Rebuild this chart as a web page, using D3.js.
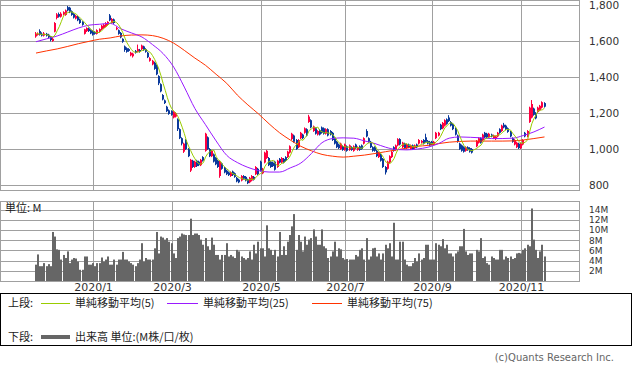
<!DOCTYPE html>
<html>
<head>
<meta charset="utf-8">
<script src="https://cdn.jsdelivr.net/npm/d3@7"></script>
<style>
  body { margin: 0; background: #fff; }
  svg { display: block; font-family: "DejaVu Sans", "Noto Sans CJK JP", sans-serif; }
</style>
</head>
<body>
<div id="chart"></div>
<script>
// daily candles, 2019/11/22 .. 2020/11/18 (index = trading day, null = 2020/10/1 halt)
var opens = [
  1625,1635,1655,1640,1630,1640,1635,1625,1600,1652,
  1728,1750,1735,1748,1745,1788,1785,1765,1750,1725,
  1735,1720,1705,1640,1655,1670,1660,1655,1650,1640,
  1650,1665,1672,1680,1690,1742,1700,1720,1665,1660,
  1645,1612,1570,1560,1555,1520,1515,1545,1540,1550,
  1555,1570,1555,1535,1490,1470,1480,1465,1405,1360,
  1300,1270,1235,1215,1210,1175,1180,1165,1110,1060,
  985,1050,1000,880,935,900,935,930,910,955,
  990,1065,1000,960,970,950,935,850,920,895,
  880,870,850,875,865,840,830,825,850,845,
  830,815,825,845,860,890,930,865,925,950,
  950,930,925,930,900,945,925,945,955,955,
  980,1055,1075,1050,1010,1060,1080,1090,1110,1150,
  1160,1100,1115,1080,1105,1120,1115,1085,1110,1100,
  1090,1060,1040,1025,1000,1015,995,1015,995,1010,
  990,1025,995,1015,1020,1030,1100,1060,1040,1010,
  1010,990,955,970,945,900,890,925,955,1010,
  995,1020,1055,1010,1030,1005,1025,1000,1020,1005,
  1025,1030,1035,1050,1065,1045,1040,1040,1025,1060,
  1075,1135,1115,1130,1165,1175,1150,1140,1115,1075,
  1030,1020,1010,990,1010,1005,1000,null,1015,1035,
  1060,1050,1090,1085,1065,1080,1060,1055,1070,1110,
  1100,1135,1130,1115,1095,1060,1025,1010,1030,1005,
  1025,1090,1070,1150,1175,1225,1200,1205,1215,1230,1255
];
var closes = [
  1640,1640,1635,1630,1642,1630,1620,1605,1612,1700,
  1748,1735,1752,1760,1770,1770,1760,1745,1730,1740,
  1715,1700,1690,1665,1672,1655,1642,1635,1640,1660,
  1666,1685,1690,1700,1706,1715,1722,1700,1672,1640,
  1620,1596,1550,1540,1545,1535,1530,1535,1555,1540,
  1575,1550,1540,1510,1505,1490,1445,1415,1365,1320,
  1275,1255,1210,1195,1190,1205,1200,1110,1060,1030,
  1030,1000,960,940,900,930,905,910,940,935,
  1085,1000,960,990,930,915,900,930,890,870,
  860,855,870,855,845,820,815,850,835,825,
  810,840,850,830,900,860,880,890,980,990,
  910,900,905,885,935,925,950,925,935,985,
  1015,1085,1040,1000,1050,1090,1060,1115,1075,1180,
  1120,1125,1085,1100,1080,1090,1085,1110,1075,1080,
  1050,1030,1010,1005,1030,995,1025,990,1020,995,
  1015,1005,1010,995,1000,1060,1070,1040,1010,990,
  990,960,980,935,900,870,930,960,985,990,
  1020,1055,1025,1035,1005,1025,1010,1020,1000,1020,
  1010,1050,1045,1030,1040,1030,1020,1025,1040,1090,
  1090,1110,1145,1160,1140,1155,1130,1110,1080,1040,
  1000,990,985,1010,995,985,980,null,1045,1060,
  1035,1080,1065,1065,1085,1070,1075,1070,1090,1090,
  1130,1120,1110,1095,1070,1040,1050,1035,1005,1030,
  1050,1070,1100,1230,1250,1190,1170,1230,1240,1260,1235
];
var highs = [
  1650,1648,1665,1648,1650,1645,1640,1628,1620,1705,
  1755,1758,1760,1765,1775,1795,1790,1770,1755,1745,
  1740,1725,1710,1668,1676,1675,1665,1660,1655,1665,
  1670,1690,1695,1705,1710,1750,1728,1725,1680,1664,
  1650,1615,1575,1565,1560,1540,1535,1550,1580,1556,
  1580,1574,1560,1540,1510,1495,1485,1470,1410,1365,
  1305,1275,1240,1220,1215,1210,1205,1170,1115,1065,
  1035,1055,1005,945,940,935,940,935,945,960,
  1090,1070,1005,995,975,955,940,935,925,900,
  885,875,875,880,870,845,835,855,855,850,
  835,845,855,850,905,895,935,895,985,995,
  955,935,930,935,940,950,955,950,960,990,
  1020,1090,1080,1055,1055,1095,1085,1120,1115,1190,
  1165,1130,1120,1105,1110,1125,1120,1115,1115,1105,
  1095,1065,1045,1030,1035,1020,1030,1020,1025,1015,
  1020,1030,1015,1020,1025,1065,1110,1065,1045,1015,
  1015,995,985,975,950,905,935,965,990,1015,
  1025,1060,1060,1040,1035,1030,1030,1025,1025,1025,
  1030,1055,1050,1055,1085,1050,1045,1045,1045,1095,
  1095,1140,1150,1165,1170,1188,1155,1145,1120,1080,
  1035,1025,1015,1015,1015,1010,1005,null,1050,1065,
  1065,1085,1095,1090,1090,1085,1080,1075,1095,1115,
  1135,1145,1135,1120,1100,1065,1055,1040,1035,1035,
  1055,1095,1105,1235,1272,1230,1205,1235,1245,1265,1260
];
var lows = [
  1618,1630,1630,1625,1625,1625,1615,1598,1595,1648,
  1720,1730,1730,1742,1740,1765,1755,1740,1725,1720,
  1710,1695,1685,1636,1650,1650,1638,1630,1635,1636,
  1646,1660,1668,1676,1685,1710,1696,1695,1660,1635,
  1615,1590,1540,1535,1540,1515,1508,1530,1536,1535,
  1550,1545,1535,1505,1485,1465,1440,1410,1355,1315,
  1270,1250,1205,1190,1185,1170,1175,1100,1055,1020,
  978,995,955,872,895,895,900,905,905,930,
  985,995,955,955,925,910,895,840,885,865,
  855,850,845,850,840,815,810,820,830,820,
  805,810,820,825,855,855,875,860,920,945,
  905,895,900,880,895,920,920,920,930,950,
  975,1050,1035,995,1005,1055,1055,1085,1070,1145,
  1115,1095,1080,1075,1075,1085,1080,1080,1070,1075,
  1045,1025,1005,1000,995,990,990,985,990,990,
  985,1000,990,990,995,1025,1065,1035,1005,985,
  985,955,950,930,895,858,885,920,950,985,
  990,1015,1020,1005,1000,1000,1005,995,995,1000,
  1005,1025,1030,1025,1035,1025,1015,1020,1020,1055,
  1070,1105,1110,1125,1135,1150,1125,1105,1075,1035,
  995,985,980,985,990,980,975,null,1010,1030,
  1030,1045,1060,1060,1060,1065,1055,1050,1065,1085,
  1095,1115,1105,1090,1065,1035,1020,1005,1000,1000,
  1020,1065,1065,1145,1170,1185,1165,1200,1210,1225,1230
];
// volume, millions
var volumes = [
  3.2,5.2,2.9,2.9,3.5,2.9,3.3,2.9,9.6,8.7,
  6.2,6.1,4.2,5.1,4.5,5.8,3.5,4.2,4.5,4.4,
  3.8,2.2,2.2,4.8,4.8,3.2,3.2,3.5,2.9,3.5,
  3.5,4.6,3.8,4.2,4.8,3.2,3.2,4.2,3.2,4.2,
  4.2,5.7,4.2,4.2,3.8,3.5,3.2,2.9,3.5,4.2,
  7.4,3.8,4.5,4.2,4.2,4.2,6.4,9.6,5.4,8.7,
  8.5,8.1,8.4,7.7,7.4,5.4,4.5,8.4,8.7,9.3,
  9.1,9.0,9.0,12.2,9.0,9.3,9.3,9.0,8.1,7.1,
  8.4,6.8,6.1,8.5,7.1,5.1,5.1,4.2,5.1,5.1,
  7.4,4.8,5.1,4.8,4.5,6.1,5.8,4.8,4.5,4.2,
  4.5,5.8,4.2,7.1,5.4,7.7,6.4,6.4,4.8,10.9,
  6.4,6.1,5.1,6.1,4.8,9.6,5.1,6.8,5.1,7.7,
  9.0,10.7,13.1,6.1,9.0,7.7,5.8,8.7,7.1,8.1,
  8.4,10.1,8.7,7.1,7.1,10.1,6.8,6.4,4.5,4.8,
  5.8,7.7,4.8,6.4,6.2,4.5,4.2,4.3,4.2,4.2,
  4.2,5.1,4.8,6.1,6.4,4.2,8.4,4.2,4.8,6.4,
  6.5,4.8,5.4,4.2,5.4,7.1,6.4,7.4,4.8,11.4,
  4.2,4.2,7.7,7.7,4.2,3.2,2.9,2.9,3.5,4.5,
  3.8,5.4,4.2,4.5,7.1,7.1,4.2,4.2,4.2,7.4,
  7.1,6.8,8.2,6.4,7.1,5.4,5.4,4.8,5.4,5.8,
  6.8,6.8,10.2,5.8,5.1,5.4,5.4,0,6.1,5.8,
  8.4,4.5,4.8,3.5,3.2,4.8,4.5,4.2,4.2,6.1,
  6.1,4.2,4.8,4.5,4.8,4.3,4.5,5.4,5.5,5.4,
  6.1,6.4,7.1,6.8,14.2,8.1,6.1,4.5,5.8,7.1,4.8
];
// moving averages read every 5 trading days
var ma25 = [1596,1612,1628,1650,1672,1688,1693,1698,1668,1645,1622,1580,1530,1455,1344,1225,1135,1045,965,925,898,880,872,872,895,922,975,1035,1058,1062,1060,1045,1030,1010,997,995,1000,1010,1030,1060,1067,1065,1062,1058,1058,1060,1075,1095,1122];
var ma75 = [1533,1545,1556,1570,1585,1598,1610,1617,1628,1633,1634,1630,1615,1588,1548,1505,1465,1415,1365,1300,1245,1195,1140,1090,1050,1015,990,970,960,955,960,966,975,985,995,1005,1015,1020,1030,1038,1042,1044,1044,1044,1044,1045,1050,1058,1067];

var tickIdx = [27, 64, 106, 146, 187, 229];
var tickLabels = ["2020/1", "2020/3", "2020/5", "2020/7", "2020/9", "2020/11"];
var priceTicks = [800, 1000, 1200, 1400, 1600, 1800];
var volTicks = [2, 4, 6, 8, 10, 12, 14];

var upColor = "#ff0040", downColor = "#0b3a9c";
var gridColor = "#a0a0a0";

var svg = d3.select("#chart").append("svg")
  .attr("width", 633)
  .attr("height", 374);

var n = closes.length;
var x = d3.scaleLinear().domain([0, n - 1]).range([36, 544.5]);
var yP = d3.scaleLinear().domain([800, 1800]).range([185, 5]);
var yV = d3.scaleLinear().domain([0, 14]).range([281, 209.5]);

var panelRight = 579.5;

// price panel grid
var priceG = svg.append("g");
priceG.selectAll(".hg").data(priceTicks).enter().append("line")
  .attr("x1", 0).attr("x2", panelRight)
  .attr("y1", d => Math.round(yP(d)) + 0.5).attr("y2", d => Math.round(yP(d)) + 0.5)
  .attr("stroke", gridColor);
priceG.selectAll(".vg").data(tickIdx).enter().append("line")
  .attr("x1", d => Math.round(x(d)) + 0.5).attr("x2", d => Math.round(x(d)) + 0.5)
  .attr("y1", 0).attr("y2", 190.5)
  .attr("stroke", gridColor);
priceG.append("rect")
  .attr("x", 0.5).attr("y", 0.5).attr("width", panelRight - 0.5).attr("height", 190)
  .attr("fill", "none").attr("stroke", gridColor);

// price axis labels
priceG.selectAll(".pl").data(priceTicks).enter().append("text")
  .attr("x", 589).attr("y", d => yP(d) + 4)
  .attr("font-size", "10.5px").attr("fill", "#333")
  .text(d => d3.format(",")(d));

// candles
var days = d3.range(n).filter(i => closes[i] !== null);
var candles = priceG.append("g");
candles.selectAll("line").data(days).enter().append("line")
  .attr("x1", i => Math.round(x(i)) - 0.5).attr("x2", i => Math.round(x(i)) - 0.5)
  .attr("y1", i => yP(highs[i])).attr("y2", i => yP(lows[i]))
  .attr("stroke", i => closes[i] >= opens[i] ? upColor : downColor);
candles.selectAll("rect").data(days).enter().append("rect")
  .attr("x", i => Math.round(x(i)) - 1)
  .attr("width", 2)
  .attr("y", i => yP(Math.max(opens[i], closes[i])))
  .attr("height", i => Math.max(1, Math.abs(yP(opens[i]) - yP(closes[i]))))
  .attr("fill", i => closes[i] >= opens[i] ? upColor : downColor);

// moving averages
var ma5 = days.map(function(i, k) {
  var win = days.slice(Math.max(0, k - 4), k + 1);
  return { i: i, v: d3.mean(win, j => closes[j]) };
});
var maIdx = d3.range(0, n, 5);
var line = d3.line().x(d => x(d.i)).y(d => yP(d.v)).curve(d3.curveMonotoneX);

priceG.append("path").datum(maIdx.map((i, k) => ({ i: i, v: ma75[k] })))
  .attr("d", line).attr("fill", "none").attr("stroke", "#ff3300").attr("stroke-width", 1);
priceG.append("path").datum(maIdx.map((i, k) => ({ i: i, v: ma25[k] })))
  .attr("d", line).attr("fill", "none").attr("stroke", "#9a1aff").attr("stroke-width", 1);
priceG.append("path").datum(ma5)
  .attr("d", d3.line().x(d => x(d.i)).y(d => yP(d.v)))
  .attr("fill", "none").attr("stroke", "#99cc00").attr("stroke-width", 1);

// volume panel
var volG = svg.append("g");
volG.selectAll(".hg").data(volTicks).enter().append("line")
  .attr("x1", 0).attr("x2", panelRight)
  .attr("y1", d => Math.round(yV(d)) + 0.5).attr("y2", d => Math.round(yV(d)) + 0.5)
  .attr("stroke", gridColor);
volG.selectAll(".vg").data(tickIdx).enter().append("line")
  .attr("x1", d => Math.round(x(d)) + 0.5).attr("x2", d => Math.round(x(d)) + 0.5)
  .attr("y1", 201.5).attr("y2", 281.5)
  .attr("stroke", gridColor);

volG.selectAll(".vb").data(d3.range(n).filter(i => volumes[i] > 0)).enter().append("rect")
  .attr("x", i => Math.round(x(i)) - 1)
  .attr("width", 2)
  .attr("y", i => yV(volumes[i]))
  .attr("height", i => yV(0) - yV(volumes[i]))
  .attr("fill", "#666");

volG.append("rect")
  .attr("x", 0.5).attr("y", 201.5).attr("width", panelRight - 0.5).attr("height", 80)
  .attr("fill", "none").attr("stroke", gridColor);

volG.selectAll(".vl").data(volTicks).enter().append("text")
  .attr("x", 589).attr("y", d => yV(d) + 3.5)
  .attr("font-size", "9px").attr("fill", "#333")
  .text(d => d + "M");

volG.append("text")
  .attr("x", 5).attr("y", 212)
  .attr("font-size", "11px").attr("fill", "#222")
  .attr("font-family", "Noto Sans CJK JP")
  .text("単位: M");

// x axis labels
svg.selectAll(".xl").data(tickIdx).enter().append("text")
  .attr("x", d => Math.round(x(d)) + 0.5).attr("y", 291)
  .attr("text-anchor", "middle")
  .attr("font-size", "11px").attr("fill", "#333")
  .text((d, k) => tickLabels[k]);

// legend
var leg = svg.append("g")
  .attr("font-family", "Noto Sans CJK JP")
  .attr("font-size", "11px").attr("fill", "#222");
leg.append("rect")
  .attr("x", 0.5).attr("y", 293.5).attr("width", 631).attr("height", 52)
  .attr("fill", "none").attr("stroke", "#000");

var legItems = [
  { x1: 41, x2: 70, tx: 75, color: "#99cc00", label: "単純移動平均(5)" },
  { x1: 167, x2: 198, tx: 203, color: "#9a1aff", label: "単純移動平均(25)" },
  { x1: 312, x2: 342, tx: 347, color: "#ff3300", label: "単純移動平均(75)" }
];
leg.append("text").attr("x", 8).attr("y", 307).text("上段:");
legItems.forEach(function(d) {
  leg.append("line").attr("x1", d.x1).attr("x2", d.x2).attr("y1", 303.5).attr("y2", 303.5)
    .attr("stroke", d.color);
  leg.append("text").attr("x", d.tx).attr("y", 307).text(d.label);
});
leg.append("text").attr("x", 8).attr("y", 341).text("下段:");
leg.append("line").attr("x1", 41).attr("x2", 70).attr("y1", 337).attr("y2", 337)
  .attr("stroke", "#666").attr("stroke-width", 4);
leg.append("text").attr("x", 75).attr("y", 341).text("出来高 単位:(M株/口/枚)");

svg.append("text")
  .attr("x", 614).attr("y", 361)
  .attr("text-anchor", "end")
  .attr("font-size", "10px").attr("fill", "#666")
  .text("(c)Quants Research Inc.");
</script>
</body>
</html>
